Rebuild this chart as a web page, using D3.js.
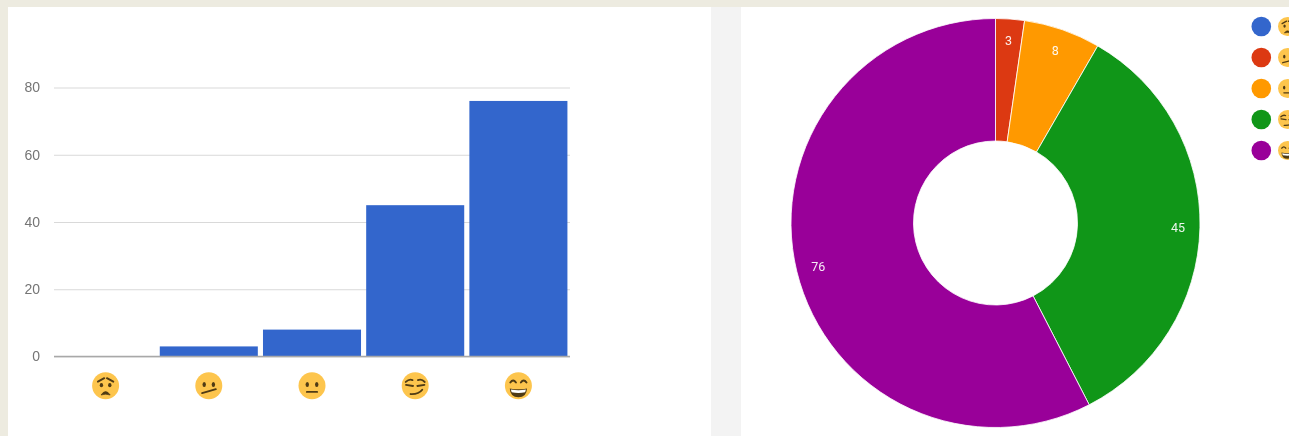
<!DOCTYPE html>
<html>
<head>
<meta charset="utf-8">
<script src="https://cdnjs.cloudflare.com/ajax/libs/d3/7.8.5/d3.min.js"></script>
<style>
html,body{margin:0;padding:0;background:#fff;overflow:hidden}
svg{display:block}
text{font-family:"Liberation Sans",Arial,sans-serif}
</style>
</head>
<body>
<svg id="c" width="1289" height="436"></svg>
<script>
const categories = ["worried", "confused", "neutral", "smirk", "grin"];
const counts = [0, 3, 8, 45, 76];
const yTicks = [0, 20, 40, 60, 80];
const sliceColors = ["#3366cc", "#dc3912", "#ff9900", "#109618", "#990099"];
const barColor = "#3366cc";

const svg = d3.select("#c");
const defs = svg.append("defs");
defs.append("filter").attr("id", "soft").append("feGaussianBlur").attr("stdDeviation", 0.5);
defs.append("filter").attr("id", "softText").append("feGaussianBlur").attr("stdDeviation", 0.3);

// page background panels
svg.append("rect").attr("width", 1289).attr("height", 436).attr("fill", "#edebe0");
svg.append("rect").attr("x", 8).attr("y", 7).attr("width", 703).attr("height", 429).attr("fill", "#fff");
svg.append("rect").attr("x", 711).attr("y", 7).attr("width", 30).attr("height", 429).attr("fill", "#f3f3f3");
svg.append("rect").attr("x", 741).attr("y", 7).attr("width", 548).attr("height", 429).attr("fill", "#fff");

// emoji face drawn at unit scale: radius 10
function face(g, kind) {
  g.append("circle").attr("r", 10).attr("fill", "#fdc54d");
  const ink = "#4f3a12";
  const stroke = (d, w = 1.4) => g.append("path").attr("d", d).attr("fill", "none").attr("stroke", ink).attr("stroke-width", w).attr("stroke-linecap", "round");
  const eye = (x, y, ry = 1.9) => g.append("ellipse").attr("cx", x).attr("cy", y).attr("rx", 1.25).attr("ry", ry).attr("fill", ink);
  if (kind === "worried") {
    stroke("M-5.7,-3 L-1,-5.6"); stroke("M5.7,-3 L1,-5.6");
    eye(-3.1, -0.4, 1.6); eye(3.1, -0.4, 1.6);
    g.append("path").attr("d", "M-3.4,6.9 Q0,1.8 3.4,6.9 Q0,5.6 -3.4,6.9 Z").attr("fill", ink).attr("stroke", ink).attr("stroke-width", 0.5);
  } else if (kind === "confused") {
    eye(-3.4, -0.9); eye(3.4, -0.9);
    stroke("M-5,5.5 Q0,4.2 5.2,2.6");
  } else if (kind === "neutral") {
    eye(-3.5, -0.9); eye(3.5, -0.9);
    stroke("M-3.8,4.6 L3.8,4.6");
  } else if (kind === "smirk") {
    stroke("M-7,-2.8 Q-4.5,-5.2 -2,-4.2"); stroke("M2,-4.2 Q5,-5.2 7,-2.8");
    stroke("M-6.8,-0.6 L-1.6,0.2"); stroke("M1.6,0.2 L6.8,-0.6");
    stroke("M-3.4,6.2 Q2.5,6.5 5.2,3");
  } else {
    stroke("M-6,-2.4 Q-3.9,-5.4 -1.8,-2.4"); stroke("M1.8,-2.4 Q3.9,-5.4 6,-2.4");
    g.append("path").attr("d", "M-6.4,2 Q0,3.4 6.4,2 Q6,8.6 0,8.6 Q-6,8.6 -6.4,2 Z").attr("fill", ink);
    g.append("path").attr("d", "M-5.6,2.8 Q0,4 5.6,2.8 L5,4.9 Q0,5.9 -5,4.9 Z").attr("fill", "#fff");
  }
}

// column chart
const x = d3.scaleBand().domain(categories).range([54, 570]).paddingInner(0.05).paddingOuter(0.025);
const y = d3.scaleLinear().domain([0, 80]).range([356.5, 87.5]);

const yAxis = svg.append("g").attr("transform", "translate(54,0)")
  .call(d3.axisLeft(y).tickValues(yTicks).tickSize(-516).tickPadding(14));
yAxis.select(".domain").remove();
yAxis.selectAll("line").attr("stroke", "#d9d9d9").attr("stroke-width", 1);
yAxis.selectAll("text").attr("fill", "#757575").style("font-size", "14px").attr("filter", "url(#softText)");

svg.append("g").selectAll("rect").data(categories).join("rect")
  .attr("x", d => x(d))
  .attr("width", x.bandwidth())
  .attr("y", (d, i) => y(counts[i]))
  .attr("height", (d, i) => y(0) - y(counts[i]))
  .attr("fill", barColor);

svg.append("line").attr("x1", 54).attr("x2", 570).attr("y1", y(0)).attr("y2", y(0))
  .attr("stroke", "#a8a8a8").attr("stroke-width", 1.5);

svg.append("g").attr("filter", "url(#soft)").selectAll("g").data(categories).join("g")
  .attr("transform", d => `translate(${x(d) + x.bandwidth() / 2},385.7) scale(1.35)`)
  .each(function (d) { face(d3.select(this), d); });

// donut chart
const cx = 995.5, cy = 223, outer = 204.5, inner = 82, labelR = 182.5;
const pie = d3.pie().sort(null).value(d => d)(counts);
const arc = d3.arc().innerRadius(inner).outerRadius(outer);
const donut = svg.append("g").attr("transform", `translate(${cx},${cy})`);
donut.selectAll("path").data(pie).join("path")
  .attr("d", arc)
  .attr("fill", (d, i) => sliceColors[i])
  .attr("stroke", "#fff").attr("stroke-opacity", 0.8).attr("stroke-width", d => d.value ? 1 : 0);
donut.selectAll("text").data(pie.filter(d => d.value > 0)).join("text")
  .attr("x", d => Math.sin((d.startAngle + d.endAngle) / 2) * labelR)
  .attr("y", d => -Math.cos((d.startAngle + d.endAngle) / 2) * labelR)
  .attr("dy", "0.36em")
  .attr("text-anchor", "middle")
  .attr("fill", "#fff").attr("fill-opacity", 0.92)
  .attr("filter", "url(#softText)")
  .style("font-family", "Roboto")
  .style("font-size", "12.5px")
  .text(d => d.value);

// legend
const legend = svg.append("g").selectAll("g").data(categories).join("g")
  .attr("transform", (d, i) => `translate(0,${26.5 + i * 31})`);
legend.append("circle").attr("cx", 1261.3).attr("r", 9.8).attr("fill", (d, i) => sliceColors[i]);
legend.append("g").attr("transform", "translate(1287.5,0) scale(0.95)").attr("filter", "url(#soft)")
  .each(function (d) { face(d3.select(this), d); });
</script>
</body>
</html>
